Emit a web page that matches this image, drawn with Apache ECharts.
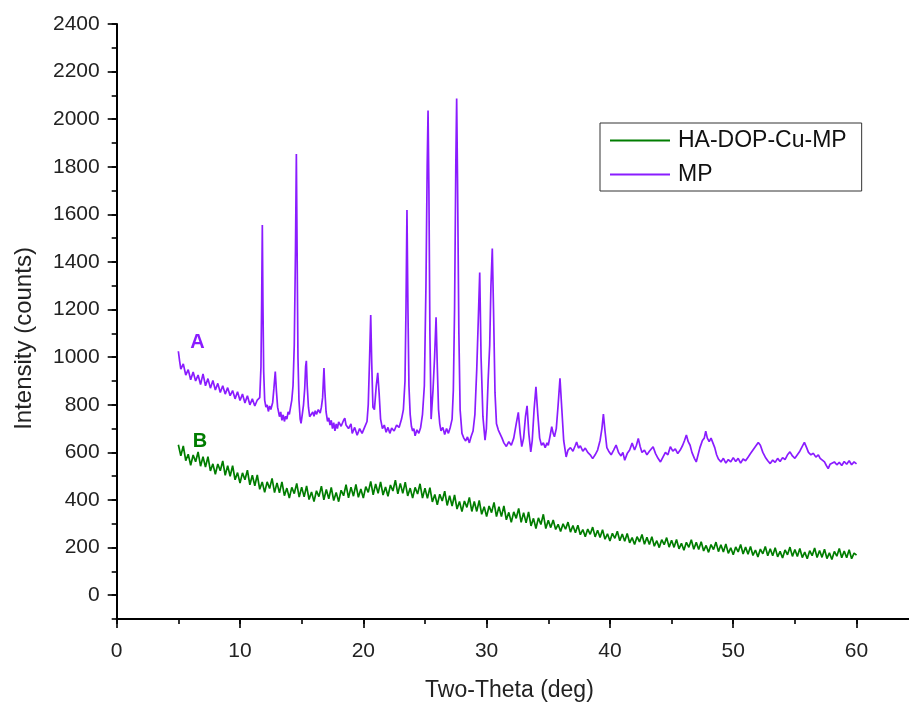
<!DOCTYPE html>
<html><head><meta charset="utf-8">
<script src="https://cdn.jsdelivr.net/npm/echarts@6/dist/echarts.min.js"></script>
<style>html,body{margin:0;padding:0;background:#fff}#c{width:909px;height:702px}</style>
</head><body><div id="c"></div>
<script>
const seriesNames = ['HA-DOP-Cu-MP', 'MP'];
const seriesColors = ['#007d00', '#8a1cff'];
const xTickLabels = [0, 10, 20, 30, 40, 50, 60];
const yTickLabels = [0, 200, 400, 600, 800, 1000, 1200, 1400, 1600, 1800, 2000, 2200, 2400];

// HA-DOP-Cu-MP: counts sampled every 0.2 deg from 5.0 to 60.0
const hadopStart = 5.0, hadopStep = 0.2;
const hadopCounts = [
 632,586,627,565,592, 546,589,561,602,542, 582,538,582,522,552, 508,551,523,564,504,
 544,500,544,485,515, 471,514,485,525,464, 504,460,505,445,476, 432,476,448,491,431,
 472,430,476,418,450, 408,453,427,470,412, 454,413,459,402,434, 393,439,414,458,401,
 444,405,453,398,432, 393,441,418,464,409, 454,416,465,411,446, 408,456,432,478,422,
 467,428,476,421,455, 416,463,438,483,426, 470,428,475,417,450, 408,453,425,468,408,
 450,407,452,392,423, 380,424,396,437,377, 418,375,421,362,394, 351,396,369,411,352,
 394,352,398,340,372, 330,375,347,390,330, 372,330,375,317,348, 306,350,323,365,306,
 347,304,350,291,323, 280,325,297,340,280, 315,284,316,276,298, 268,300,277,307,265,
 293,262,294,254,276, 246,278,256,286,245, 273,242,275,235,258, 228,260,239,269,229,
 257,227,259,220,242, 213,246,224,255,214, 243,213,246,206,229, 200,233,212,242,202,
 231,201,234,195,218, 189,222,201,233,193, 222,192,225,186,209, 180,213,192,223,183,
 212,182,215,176,199, 170,203,182,213,173, 202,172,205,167,190, 161,194,174,205,166,
 195,166,199,161,184, 156,190,170,202,163, 192,163,196,158,181, 153,187,166,198,158,
 188,159,193,154,178, 150,184,164,196,157, 186,157,191,153,177, 168
];

// MP: [two-theta, counts]
const mpPattern = [
 [5.0,1025],[5.1,985],[5.2,950],[5.4,972],[5.6,925],[5.8,948],[6.0,905],[6.2,938],[6.4,900],[6.6,925],
 [6.8,885],[7.0,930],[7.2,880],[7.4,910],[7.6,870],[7.8,902],[8.0,862],[8.2,890],[8.4,852],[8.6,880],
 [8.8,845],[9.0,872],[9.2,838],[9.4,860],[9.6,825],[9.8,855],[10.0,818],[10.2,845],[10.4,808],[10.6,838],
 [10.8,800],[11.0,825],[11.2,795],[11.4,820],[11.5,812],
 [11.6,830],[11.7,960],[11.76,1250],[11.81,1555],[11.86,1220],[11.92,940],[12.0,820],[12.1,790],[12.2,800],
 [12.3,772],[12.4,795],[12.5,780],[12.65,810],
 [12.75,870],[12.86,940],[12.95,860],[13.05,790],[13.2,750],[13.3,770],[13.4,735],[13.5,758],[13.6,730],
 [13.7,752],[13.8,740],[13.9,770],[14.0,760],[14.1,790],[14.2,820],
 [14.3,880],[14.4,1050],[14.5,1450],[14.57,1854],[14.63,1450],[14.7,1000],[14.78,820],[14.88,740],
 [14.95,722],[15.05,760],[15.15,800],
 [15.25,870],[15.32,960],[15.38,985],[15.45,880],[15.55,790],[15.65,750],[15.8,745],[15.9,770],[16.0,752],
 [16.1,775],[16.2,760],[16.35,780],[16.5,765],[16.6,790],
 [16.7,830],[16.76,900],[16.81,954],[16.88,860],[16.98,770],[17.1,730],[17.2,745],[17.3,715],[17.4,735],
 [17.5,700],[17.6,725],[17.7,690],[17.8,720],[17.9,700],[18.0,728],[18.2,710],[18.4,735],[18.5,744],
 [18.6,715],[18.8,700],[19.0,720],[19.1,680],[19.3,705],[19.5,672],[19.7,700],[19.9,680],[20.1,705],[20.3,730],
 [20.4,800],[20.5,980],[20.6,1177],[20.68,980],[20.78,790],[20.9,780],
 [21.05,880],[21.17,934],[21.28,850],[21.4,740],[21.55,700],[21.7,715],[21.85,685],[22.0,705],[22.15,680],
 [22.3,702],[22.5,690],[22.7,715],[22.9,705],[23.1,740],[23.25,780],
 [23.38,900],[23.46,1200],[23.54,1618],[23.62,1200],[23.7,880],[23.8,760],[23.9,710],[24.0,690],[24.1,700],
 [24.2,670],[24.35,695],[24.5,680],[24.65,705],[24.8,760],
 [24.95,880],[25.08,1300],[25.18,1800],[25.25,2036],[25.32,1700],[25.4,1100],[25.5,740],
 [25.65,860],[25.78,1000],[25.9,1168],[26.0,960],[26.1,780],[26.2,720],[26.3,690],[26.45,705],[26.6,675],
 [26.75,700],[26.9,680],[27.05,705],[27.2,740],
 [27.3,860],[27.4,1200],[27.5,1800],[27.57,2087],[27.64,1750],[27.75,1100],[27.85,780],[28.0,680],[28.15,660],
 [28.3,648],[28.45,665],[28.6,640],[28.75,668],[28.9,690],[29.05,760],
 [29.2,950],[29.32,1150],[29.44,1356],[29.55,1000],[29.7,750],[29.87,651],[29.98,700],
 [30.12,900],[30.25,1050],[30.35,1300],[30.46,1457],[30.56,1200],[30.68,850],[30.8,720],[30.95,694],[31.1,690],
 [31.25,660],[31.4,640],[31.6,625],[31.8,645],[32.0,630],[32.2,660],
 [32.4,720],[32.57,768],[32.72,680],[32.85,624],[33.0,660],
 [33.15,750],[33.28,796],[33.42,680],[33.58,602],[33.7,650],
 [33.85,780],[34.0,876],[34.15,760],[34.3,660],[34.45,630],[34.6,640],[34.75,620],[34.9,640],[35.0,630],[35.15,670],
 [35.28,708],[35.4,680],[35.5,666],[35.65,700],[35.8,800],
 [35.95,911],[36.1,780],[36.25,650],[36.45,581],[36.6,610],[36.8,620],[37.0,605],[37.2,630],[37.3,644],[37.45,618],
 [37.6,628],[37.8,605],[38.0,618],[38.2,600],[38.4,590],[38.6,574],[38.8,590],[39.0,610],[39.2,650],
 [39.35,700],[39.47,761],[39.6,690],[39.75,620],[39.9,605],[40.1,590],[40.3,610],[40.5,631],[40.7,600],[40.9,585],
 [41.05,600],[41.2,567],[41.4,595],[41.6,610],[41.8,639],[42.0,610],[42.15,630],[42.3,659],[42.45,625],[42.6,600],
 [42.8,610],[43.0,590],[43.2,605],[43.5,624],[43.7,595],[43.9,575],[44.1,560],[44.3,580],[44.5,600],[44.7,590],
 [44.9,624],[45.1,605],[45.3,615],[45.5,595],[45.7,610],[45.9,630],[46.05,650],[46.2,673],[46.35,645],[46.5,630],
 [46.65,600],[46.85,575],[47.0,560],[47.15,590],[47.3,620],[47.5,650],[47.65,660],[47.77,689],[47.9,660],[48.05,645],
 [48.2,660],[48.34,654],[48.5,620],[48.65,590],[48.8,572],[49.0,560],[49.2,575],[49.4,555],[49.6,570],[49.8,560],
 [50.0,578],[50.2,562],[50.4,575],[50.6,555],[50.8,572],[51.0,565],[51.2,580],[51.4,595],[51.6,610],[51.8,625],
 [52.03,642],[52.2,630],[52.4,600],[52.6,580],[52.8,565],[53.0,553],[53.2,568],[53.4,558],[53.6,575],[53.8,562],
 [54.0,578],[54.2,570],[54.4,590],[54.6,602],[54.8,585],[55.0,575],[55.2,590],[55.4,605],[55.6,625],[55.77,642],
 [55.95,620],[56.1,600],[56.3,590],[56.5,596],[56.7,580],[56.9,590],[57.05,575],[57.2,581],[57.4,560],[57.55,545],
 [57.7,532],[57.85,550],[58.0,545],[58.2,560],[58.4,548],[58.6,558],[58.8,545],[59.0,562],[59.2,550],[59.4,565],
 [59.6,548],[59.8,560],[60.0,552]
];

// curve tags, placed in data units
const curveTags = [
  { text: 'B', at: [6.76, 645] },
  { text: 'A', at: [6.55, 1063] }
];

const FONT = "'Liberation Sans', Arial, Helvetica, sans-serif";
const hadopData = hadopCounts.map((v, i) => [+(hadopStart + i * hadopStep).toFixed(1), v]);
const seriesData = [hadopData, mpPattern];

const chart = echarts.init(document.getElementById('c'), null, { renderer: 'canvas' });

const baseX = {
  type: 'value', min: 0, max: 65, interval: 5, position: 'bottom', gridIndex: 0,
  splitLine: { show: false }
};
const baseY = {
  type: 'value', min: -100, max: 2400, interval: 100, position: 'left', gridIndex: 0,
  splitLine: { show: false }
};
const tickLine = { color: '#000', width: 1.6 };

chart.setOption({
  animation: false,
  backgroundColor: '#ffffff',
  grid: { left: 116.7, top: 24, width: 801.5, height: 595, containLabel: false, outerBoundsMode: 'none' },
  xAxis: [
    Object.assign({}, baseX, {
      name: 'Two-Theta (deg)', nameLocation: 'middle', nameGap: 60,
      nameTextStyle: { fontFamily: FONT, fontSize: 23, color: '#222', padding: [0, 16, 0, 0] },
      axisLine: { onZero: false, lineStyle: { color: '#000', width: 2 } },
      axisTick: { show: true, inside: false, length: 5, lineStyle: tickLine },
      axisLabel: { customValues: xTickLabels, margin: 22, fontFamily: FONT, fontSize: 21, color: '#222',
        formatter: v => String(v) }
    }),
    Object.assign({}, baseX, {
      axisLine: { show: false, onZero: false },
      axisTick: { show: true, inside: false, length: 9, customValues: xTickLabels, lineStyle: tickLine },
      axisLabel: { show: false }
    })
  ],
  yAxis: [
    Object.assign({}, baseY, {
      name: 'Intensity (counts)', nameLocation: 'middle', nameGap: 80,
      nameTextStyle: { fontFamily: FONT, fontSize: 24, color: '#222', padding: [0, 34, 0, 0] },
      axisLine: { onZero: false, lineStyle: { color: '#000', width: 2 } },
      axisTick: { show: true, inside: false, length: 5, lineStyle: tickLine },
      axisLabel: { customValues: yTickLabels, margin: 17, fontFamily: FONT, fontSize: 21, color: '#222',
        formatter: v => String(v) }
    }),
    Object.assign({}, baseY, {
      axisLine: { show: false, onZero: false },
      axisTick: { show: true, inside: false, length: 9, customValues: yTickLabels, lineStyle: tickLine },
      axisLabel: { show: false }
    })
  ],
  legend: {
    data: seriesNames.map(n => ({ name: n, icon: 'rect' })),
    orient: 'vertical', left: 600, top: 123,
    padding: [6, 15, 5, 10], itemGap: 11, itemWidth: 60, itemHeight: 2,
    borderColor: '#333', borderWidth: 1, backgroundColor: '#fff',
    textStyle: { fontFamily: FONT, fontSize: 23, color: '#111', padding: [0, 0, 0, 3] }
  },
  series: seriesNames.map((name, k) => ({
    name, type: 'line', xAxisIndex: 0, yAxisIndex: 0,
    data: seriesData[k], symbol: 'none', showSymbol: false, smooth: false,
    lineStyle: { color: seriesColors[k], width: 1.7 },
    itemStyle: { color: seriesColors[k] },
    markPoint: {
      symbol: 'circle', symbolSize: 1, itemStyle: { color: 'rgba(0,0,0,0)' },
      label: { show: true, position: 'inside', formatter: curveTags[k].text,
        fontFamily: FONT, fontSize: 20, fontWeight: 'bold', color: seriesColors[k] },
      data: [{ coord: curveTags[k].at }]
    }
  }))
});
</script></body></html>
